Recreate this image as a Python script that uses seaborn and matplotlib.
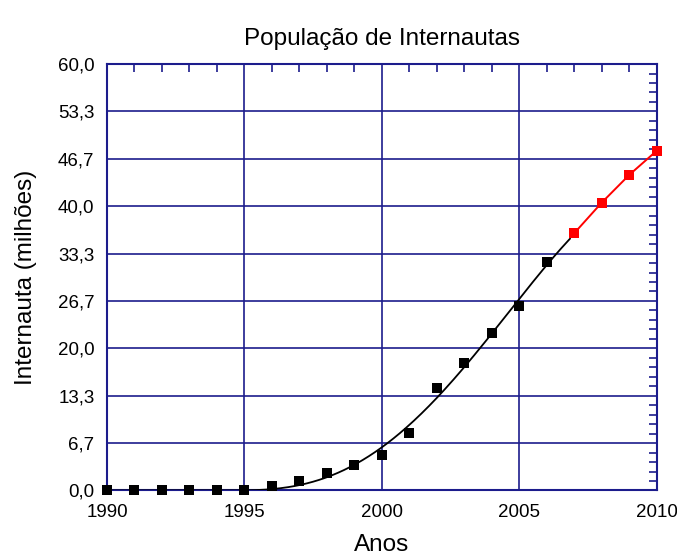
import numpy as np
import pandas as pd
import matplotlib
matplotlib.use("Agg")
import matplotlib.pyplot as plt
import seaborn as sns
from matplotlib.ticker import MultipleLocator, FixedLocator, FuncFormatter

# dados observados (milhões)
anos_obs = [1990, 1991, 1992, 1993, 1994, 1995, 1996, 1997, 1998,
            1999, 2000, 2001, 2002, 2003, 2004, 2005, 2006]
internautas_obs = [0.0, 0.0, 0.0, 0.0, 0.0, 0.1, 0.7, 1.35, 2.4,
                   3.6, 5.0, 8.05, 14.4, 18.0, 22.1, 26.0, 32.1]

# projeção
anos_proj = [2007, 2008, 2009, 2010]
internautas_proj = [36.2, 40.5, 44.4, 47.8]

navy = "#1c1c8c"

sns.set_style("white")
plt.rcParams['font.family'] = ['Liberation Sans', 'DejaVu Sans']
plt.rcParams['text.color'] = 'black'
plt.rcParams['axes.labelcolor'] = 'black'

obs = pd.DataFrame({"ano": anos_obs, "val": internautas_obs})
proj = pd.DataFrame({"ano": anos_proj, "val": internautas_proj})

# curva ajustada aos dados (nula antes de t0)
t0 = 1994.3
sub = obs[obs["ano"] >= 1995]
t = sub["ano"].values - t0
A = np.column_stack([t**2, t**3, t**4])
coef, *_ = np.linalg.lstsq(A, sub["val"].values, rcond=None)
xs = np.linspace(1990, 2006.85, 300)
ts = np.clip(xs - t0, 0, None)
fit = pd.DataFrame({"ano": xs, "val": coef[0]*ts**2 + coef[1]*ts**3 + coef[2]*ts**4})

fig = plt.figure(figsize=(6.77, 5.57), dpi=100)
ax = fig.add_axes([0.158, 0.1194, 0.812, 0.7656])

sns.lineplot(data=fit, x="ano", y="val", color="black", lw=1.3, ax=ax, zorder=3)
sns.scatterplot(data=obs, x="ano", y="val", color="black", marker="s", s=42,
                edgecolor="black", linewidth=0, ax=ax, zorder=4, clip_on=False)
sns.lineplot(data=proj, x="ano", y="val", color="#ff0000", lw=1.4, marker="s",
             markersize=6.5, markeredgewidth=0, ax=ax, zorder=4, clip_on=False)

ax.set_xlim(1990, 2010)
ax.set_ylim(0, 60)
yt = [i * 60 / 9 for i in range(10)]
ax.yaxis.set_major_locator(FixedLocator(yt))
ax.yaxis.set_minor_locator(MultipleLocator(60 / 45))
ax.xaxis.set_major_locator(MultipleLocator(5))
ax.xaxis.set_minor_locator(MultipleLocator(1))
ax.yaxis.set_major_formatter(FuncFormatter(lambda v, p: f"{v:.1f}".replace(".", ",")))
ax.xaxis.set_major_formatter(FuncFormatter(lambda v, p: f"{int(round(v))}"))

ax.grid(True, which="major", color=navy, lw=1.2)
ax.tick_params(which="both", direction="in", top=True, right=True, color=navy,
               labelsize=13.5, labelcolor="black")
ax.tick_params(axis="y", which="major", length=0, pad=9)
ax.tick_params(axis="x", which="major", length=0, pad=10)
ax.tick_params(which="minor", length=6, width=1.2)
for s in ax.spines.values():
    s.set_color(navy)
    s.set_linewidth(1.5)

ax.set_title("População de Internautas", fontsize=17.5, pad=14)
ax.set_xlabel("Anos", fontsize=17.5, labelpad=9)
ax.set_ylabel("Internauta (milhões)", fontsize=17.5, labelpad=15)

plt.savefig("out.png", dpi=100)
plt.close()
